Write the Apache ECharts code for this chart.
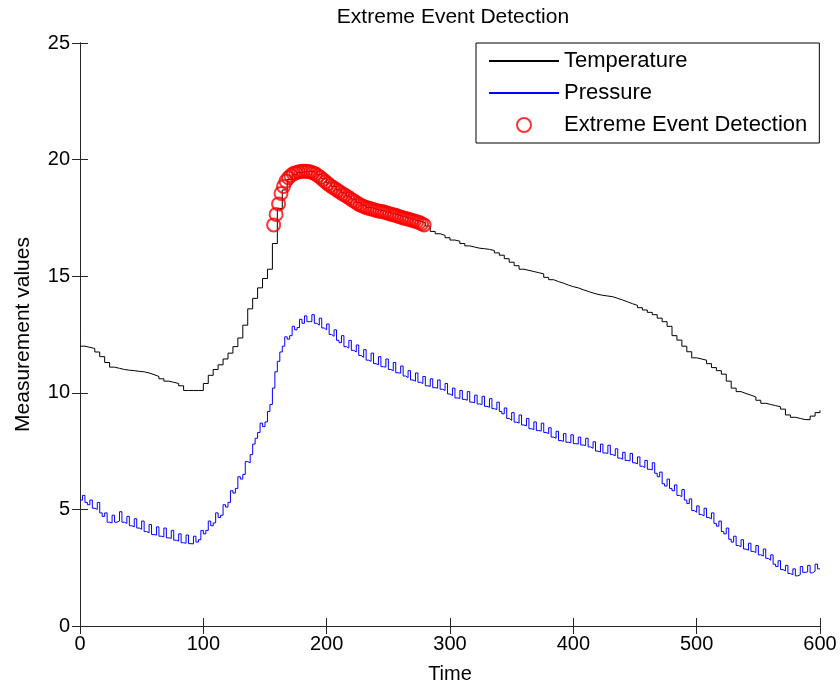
<!DOCTYPE html>
<html>
<head>
<meta charset="utf-8">
<script src="https://cdn.jsdelivr.net/npm/echarts@6/dist/echarts.min.js"></script>
<style>
html,body{margin:0;padding:0;background:#fff;}
#chart{width:840px;height:686px;}
</style>
</head>
<body>
<div id="chart"></div>
<script>
// ---- Data ----
const chartTitle = 'Extreme Event Detection';
const seriesNames = ['Temperature', 'Pressure', 'Extreme Event Detection'];
const xTicks = [0, 100, 200, 300, 400, 500, 600];
const yTicks = [0, 5, 10, 15, 20, 25];

// Temperature sampled every 4 time units, t = 0..600
const tempStart = 0, tempStep = 4;
const temperature = [
  12.0, 11.95, 11.9, 11.75, 11.55, 11.3, 11.1, 11.05, 11.0, 10.97,
  10.95, 10.92, 10.9, 10.85, 10.78, 10.7, 10.6, 10.5, 10.45, 10.4,
  10.3, 10.1, 10.1, 10.1, 10.1, 10.4, 10.75, 11.0, 11.2, 11.45,
  11.7, 11.98, 12.35, 12.9, 13.6, 14.05, 14.5, 14.9, 15.3, 16.4,
  17.9, 18.7, 19.15, 19.36, 19.45, 19.49, 19.5, 19.45, 19.35, 19.18,
  19.0, 18.85, 18.7, 18.57, 18.43, 18.3, 18.16, 18.04, 17.95, 17.88,
  17.83, 17.78, 17.72, 17.66, 17.6, 17.54, 17.48, 17.41, 17.36, 17.28,
  17.15, 16.92, 16.82, 16.75, 16.65, 16.55, 16.5, 16.4, 16.3, 16.25,
  16.2, 16.18, 16.15, 16.1, 16.0, 15.9, 15.75, 15.6, 15.45, 15.3,
  15.25, 15.2, 15.15, 15.1, 14.95, 14.85, 14.77, 14.7, 14.62, 14.55,
  14.5, 14.42, 14.35, 14.28, 14.22, 14.18, 14.15, 14.12, 14.05, 13.98,
  13.9, 13.82, 13.75, 13.65, 13.55, 13.45, 13.35, 13.2, 13.05, 12.85,
  12.45, 12.26, 12.0, 11.76, 11.5, 11.45, 11.4, 11.25, 11.08, 10.95,
  10.8, 10.5, 10.2, 10.05, 9.97, 9.9, 9.82, 9.68, 9.55, 9.5,
  9.45, 9.4, 9.3, 9.05, 8.95, 8.9, 8.85, 8.85, 9.0, 9.15,
  9.25
];

// Pressure sampled every 2 time units, t = 0..600
const presStart = 0, presStep = 2;
const pressure = [
  5.4, 5.6, 5.3, 5.2, 5.4, 5.05, 5.0, 5.3, 4.85, 4.7,
  4.85, 4.45, 4.42, 4.75, 4.45, 4.5, 4.9, 4.45, 4.4, 4.7,
  4.3, 4.25, 4.6, 4.2, 4.15, 4.5, 4.05, 4.0, 4.35, 3.92,
  3.9, 4.25, 3.85, 3.82, 4.2, 3.78, 3.76, 4.1, 3.68, 3.64,
  3.95, 3.57, 3.55, 3.9, 3.53, 3.52, 3.85, 3.6, 3.7, 4.1,
  3.95, 4.1, 4.5, 4.3, 4.42, 4.85, 4.65, 4.75, 5.2, 5.1,
  5.3, 5.8, 5.7, 5.9, 6.4, 6.3, 6.5, 7.05, 7.0, 7.35,
  7.8, 8.05, 8.3, 8.7, 8.55, 8.75, 9.2, 9.5, 10.2, 10.9,
  11.35, 11.75, 12.0, 12.4, 12.3, 12.45, 12.85, 12.7, 12.8, 13.15,
  12.98, 13.3, 13.05, 13.05, 13.35, 12.98, 12.9, 13.2, 12.78, 12.7,
  12.95, 12.5, 12.42, 12.7, 12.25, 12.15, 12.45, 11.98, 11.92, 12.25,
  11.82, 11.75, 12.05, 11.6, 11.52, 11.85, 11.4, 11.35, 11.7, 11.25,
  11.2, 11.55, 11.12, 11.1, 11.45, 11.0, 10.95, 11.3, 10.86, 10.84,
  11.15, 10.72, 10.65, 10.95, 10.55, 10.5, 10.85, 10.45, 10.4, 10.7,
  10.3, 10.28, 10.6, 10.22, 10.2, 10.55, 10.15, 10.1, 10.4, 9.95,
  9.88, 10.2, 9.78, 9.76, 10.1, 9.72, 9.68, 10.05, 9.6, 9.57,
  9.9, 9.52, 9.5, 9.85, 9.42, 9.38, 9.75, 9.32, 9.28, 9.6,
  9.2, 9.1, 9.35, 8.9, 8.82, 9.15, 8.74, 8.7, 9.05, 8.62,
  8.58, 8.9, 8.46, 8.42, 8.75, 8.38, 8.36, 8.7, 8.3, 8.25,
  8.5, 8.1, 8.05, 8.35, 7.95, 7.92, 8.25, 7.88, 7.86, 8.2,
  7.82, 7.8, 8.1, 7.76, 7.74, 8.05, 7.68, 7.62, 7.9, 7.5,
  7.46, 7.8, 7.42, 7.4, 7.75, 7.35, 7.3, 7.6, 7.2, 7.15,
  7.45, 7.1, 7.08, 7.4, 7.0, 6.95, 7.25, 6.85, 6.8, 7.1,
  6.72, 6.7, 7.0, 6.55, 6.4, 6.6, 6.1, 6.0, 6.3, 5.9,
  5.8, 6.05, 5.6, 5.55, 5.85, 5.4, 5.25, 5.45, 4.95, 4.88,
  5.15, 4.78, 4.72, 5.05, 4.65, 4.6, 4.85, 4.4, 4.28, 4.5,
  4.05, 3.95, 4.2, 3.72, 3.6, 3.85, 3.45, 3.4, 3.7, 3.3,
  3.25, 3.55, 3.2, 3.15, 3.45, 3.05, 3.0, 3.3, 2.9, 2.82,
  3.05, 2.65, 2.55, 2.8, 2.42, 2.36, 2.6, 2.25, 2.2, 2.45,
  2.15, 2.2, 2.55, 2.3, 2.32, 2.6, 2.28, 2.35, 2.65, 2.45,
  2.45
];

// Extreme events (temperature values) every 2 time units, t = 157..279
const eventStart = 157, eventStep = 2;
const events = [
  17.2, 17.65, 18.1, 18.55, 18.85, 19.08, 19.22, 19.32, 19.4, 19.44,
  19.47, 19.49, 19.5, 19.5, 19.49, 19.47, 19.43, 19.38, 19.31, 19.23,
  19.14, 19.05, 18.96, 18.88, 18.81, 18.74, 18.67, 18.6, 18.53, 18.47,
  18.4, 18.33, 18.26, 18.19, 18.12, 18.06, 18.01, 17.97, 17.93, 17.9,
  17.87, 17.84, 17.81, 17.79, 17.77, 17.74, 17.71, 17.68, 17.65, 17.62,
  17.59, 17.55, 17.52, 17.49, 17.46, 17.43, 17.4, 17.37, 17.34, 17.3,
  17.25, 17.2
];

const toPairs = (arr, start, step) => arr.map((v, i) => [start + i * step, v]);

const FONT = 'Liberation Sans, Arial, sans-serif';
const chart = echarts.init(document.getElementById('chart'), null, {renderer: 'canvas'});

const axisCommon = {
  type: 'value',
  splitLine: {show: false},
  axisLine: {show: true, lineStyle: {color: '#262626', width: 1}},
  axisTick: {show: true, inside: true, length: 8, lineStyle: {color: '#262626'}}
};

chart.setOption({
  animation: false,
  backgroundColor: '#fff',
  grid: {left: 80, right: 20, top: 43, bottom: 60, containLabel: false, outerBoundsMode: 'none'},
  graphic: [{
    type: 'text', x: 453, y: 17,
    style: {text: chartTitle, font: '21px ' + FONT, fill: '#000', textAlign: 'center', textVerticalAlign: 'middle'}
  }],
  legend: {
    orient: 'vertical', left: 476, top: 43,
    padding: [7, 12, 7, 12], itemGap: 10, itemWidth: 70, itemHeight: 14,
    borderColor: '#000', borderWidth: 1, backgroundColor: '#fff', borderRadius: 0,
    textStyle: {fontFamily: FONT, fontSize: 22, lineHeight: 21, color: '#000'},
    data: [
      {name: seriesNames[0], itemStyle: {opacity: 0}},
      {name: seriesNames[1], itemStyle: {opacity: 0}},
      {name: seriesNames[2], icon: 'circle'}
    ]
  },
  xAxis: [
    Object.assign({}, axisCommon, {
      position: 'bottom', min: xTicks[0], max: xTicks[xTicks.length - 1], interval: 100,
      axisLabel: {fontFamily: FONT, fontSize: 20, color: '#000', margin: 8},
      name: 'Time', nameLocation: 'middle', nameGap: 38,
      nameTextStyle: {fontFamily: FONT, fontSize: 20, color: '#000'}
    }),
    Object.assign({}, axisCommon, {
      position: 'top', min: xTicks[0], max: xTicks[xTicks.length - 1], interval: 100,
      axisLabel: {show: false}
    })
  ],
  yAxis: [
    Object.assign({}, axisCommon, {
      position: 'left', min: yTicks[0], max: yTicks[yTicks.length - 1], interval: 5,
      axisLabel: {fontFamily: FONT, fontSize: 20, color: '#000', margin: 10},
      name: 'Measurement values', nameLocation: 'middle', nameGap: 46,
      nameTextStyle: {fontFamily: FONT, fontSize: 21, color: '#000'}
    }),
    Object.assign({}, axisCommon, {
      position: 'right', min: yTicks[0], max: yTicks[yTicks.length - 1], interval: 5,
      axisLabel: {show: false}
    })
  ],
  series: [
    {
      name: seriesNames[0], type: 'line', data: toPairs(temperature, tempStart, tempStep),
      step: 'end', symbol: 'none', color: '#000',
      lineStyle: {color: '#000', width: 1}, z: 2
    },
    {
      name: seriesNames[1], type: 'line', data: toPairs(pressure, presStart, presStep),
      step: 'end', symbol: 'none', color: '#0000ff',
      lineStyle: {color: '#0000ff', width: 1}, z: 2
    },
    {
      name: seriesNames[2], type: 'scatter', data: toPairs(events, eventStart, eventStep),
      symbol: 'circle', symbolSize: 13,
      itemStyle: {color: 'rgba(255,255,255,0)', borderColor: '#ff0000', borderWidth: 2},
      z: 3
    }
  ]
});
</script>
</body>
</html>
